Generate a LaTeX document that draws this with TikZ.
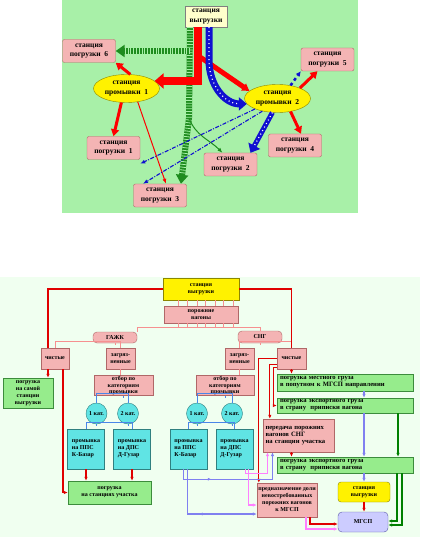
\documentclass[tikz,border=0pt]{standalone}
\usepackage{fontspec}
\setmainfont{Liberation Serif}
\usetikzlibrary{arrows.meta,positioning,shapes.geometric,calc,decorations.markings}
\definecolor{topbg}{HTML}{A8F0A8}
\definecolor{botbg}{HTML}{F0FFF0}
\definecolor{rose}{HTML}{F4B4B4}
\definecolor{roseline}{HTML}{B06868}
\definecolor{lgreen}{HTML}{96EC8C}
\definecolor{dgreenline}{HTML}{3C8C3C}
\definecolor{aqua}{HTML}{60E4E4}
\definecolor{aqualine}{HTML}{308080}
\definecolor{lav}{HTML}{CCCCFF}
\definecolor{lavline}{HTML}{8080F0}
\definecolor{magline}{HTML}{FF80FF}
\definecolor{redline}{HTML}{E00000}
\definecolor{catline}{HTML}{4A86E8}
\definecolor{paleyel}{HTML}{FFFFCC}
\definecolor{hatch}{HTML}{1E8C1E}
\definecolor{bandblue}{HTML}{1010D0}
\tikzset{
  every node/.style={font=\bfseries\fontsize{6}{7}\selectfont, align=center, inner sep=1pt},
  big/.style={font=\bfseries\fontsize{7.5}{9.5}\selectfont},
  wide/.style={font=\bfseries\fontsize{6.6}{7}\selectfont},
  tight/.style={font=\bfseries\fontsize{6}{6.2}\selectfont},
  stbox/.style={big, draw=gray, fill=paleyel, minimum width=42pt, minimum height=21pt},
  tpbox/.style={big, draw=roseline, fill=rose, rounded corners=2pt, minimum width=53pt, minimum height=23pt},
  wash/.style={big, ellipse, draw=olive, fill=yellow, minimum width=66pt, minimum height=28pt, inner sep=0pt},
  pbox/.style={draw=roseline, fill=rose},
  gbox/.style={draw=dgreenline, fill=lgreen},
  cbox/.style={draw=aqualine, fill=aqua, align=left, minimum width=37pt, minimum height=40pt},
  ybox/.style={draw=olive, fill=yellow},
  catc/.style={ellipse, draw=aqualine, fill=aqua, minimum width=21pt, minimum height=21pt, inner sep=0pt},
  tip/.style={-{Latex[length=4pt,width=3.5pt]}},
  redln/.style={draw=redline, line width=1.1pt},
  redarr/.style={redln, tip},
  lavarr/.style={draw=lavline, line width=1.4pt, tip},
  magarr/.style={draw=magline, line width=1.4pt, tip},
  grnarr/.style={draw=green!50!black, line width=1.5pt, tip},
  pinkln/.style={draw=rose!80!red, line width=0.8pt},
  catln/.style={draw=catline, line width=0.8pt},
  mida/.style={postaction={decorate, decoration={markings, mark=at position #1 with {\arrow{Latex[length=3.5pt,width=3pt]}}}}},
  redband/.style={draw=red, line width=8pt, -{Triangle[length=9pt,width=15pt]}},
  redmid/.style={draw=red, line width=3pt, -{Triangle[length=7pt,width=8pt]}},
  redthin/.style={draw=red, line width=1pt, -{Latex[length=5pt,width=4pt]}},
  blueband/.style={draw=bandblue, line width=#1, -{Triangle[length=8pt,width=13pt]},
    postaction={draw=white, line width=1.2pt, dash pattern=on 1pt off 3pt, shorten >=8pt, -}},
  greenband/.style={draw=hatch, line width=6pt, -{Triangle[length=9pt,width=12pt]},
    postaction={draw=topbg, line width=6pt, dash pattern=on 0.8pt off 2pt, shorten >=9pt, -}},
  dashdot/.style={draw=bandblue, line width=1.1pt, dash pattern=on 4pt off 1.5pt on 1pt off 1.5pt, -{Latex[length=5pt,width=4pt]}},
}
\begin{document}
\begin{tikzpicture}[x=1pt,y=-1pt]
\useasboundingbox (0,0) rectangle (420,537);
\fill[topbg] (62,0) rectangle (358,213);
\fill[botbg] (0,277) rectangle (420,537);

% upper scheme
\node[stbox] (vygT) at (206,16.5) {станция\\выгрузки};
\node[tpbox] (pog6) at (89,51) {станция\\погрузки~~6};
\node[tpbox] (pog5) at (327.5,59.5) {станция\\погрузки~~5};
\node[wash] (prom1) at (126.5,88.5) {станция\\промывки~~1};
\node[wash] (prom2) at (277.5,98.5) {станция\\промывки~~2};
\node[tpbox] (pog1) at (113.5,148) {станция\\погрузки~~1};
\node[tpbox] (pog2) at (230.5,164.5) {станция\\погрузки~~2};
\node[tpbox] (pog4) at (295,145.5) {станция\\погрузки~~4};
\node[tpbox] (pog3) at (160,195.5) {станция\\погрузки~~3};

\coordinate (gfork) at (189,118);
\coordinate (rfork) at (200,57);
\draw[greenband] ([xshift=-16pt]vygT.south) -- (gfork) -- ([xshift=21pt]pog3.north);
\draw[greenband] ([xshift=-16pt]vygT.south |- pog6.east) -- (pog6.east);
\draw[draw=hatch, line width=1pt, -{Latex[length=5pt,width=4pt]}] (gfork) to[out=-70,in=135] ([xshift=-8pt]pog2.north);
\draw[redband] ([xshift=-8pt]vygT.south) |- (prom1.15);
\draw[redmid, line width=5pt] (rfork) -- (prom2.165);
\draw[blueband=7pt] ([xshift=3pt]vygT.south) -- ++(0,33) .. controls +(0,25) and +(-22,0) .. (prom2.190);

\draw[redmid] (prom1.75) -- (pog6.south east);
\draw[redmid] (prom1.250) -- (pog1.north);
\draw[redthin] (prom1.310) -- ([xshift=6pt]pog3.north);
\draw[redmid] (prom2.25) -- ([xshift=-10pt]pog5.south);
\draw[draw=bandblue, line width=2.5pt, dashed, -{Latex[length=5pt,width=5pt]}] (prom2.45) -- (pog5.south west);
\draw[redmid] (prom2.315) -- ([xshift=6pt]pog4.north);
\draw[dashdot] (prom2.205) -- ([yshift=-4pt]pog1.south east);
\draw[dashdot] (prom2.220) -- ([xshift=-17pt]pog3.north);
\draw[blueband=5pt] (prom2.250) -- ([xshift=20pt]pog2.north);

% lower scheme
\node[ybox, minimum width=76pt, minimum height=22pt] (vygB) at (201,289) {станция\\выгрузки};
\node[pbox, minimum width=74pt, minimum height=17pt] (porozh) at (201,314.5) {порожние\\вагоны};
\node[pbox, rounded corners=4pt, minimum width=44pt, minimum height=11pt] (gazhk) at (115,337.5) {ГАЖК};
\node[pbox, rounded corners=4pt, minimum width=44pt, minimum height=12pt] (sng) at (260,337) {СНГ};
\node[pbox, minimum width=28pt, minimum height=21pt] (chistG) at (55,358.5) {чистые};
\node[pbox, minimum width=29pt, minimum height=21pt] (zagrG) at (120.5,358.5) {загряз-\\ненные};
\node[pbox, minimum width=29pt, minimum height=21pt] (zagrS) at (239.5,358.5) {загряз-\\ненные};
\node[pbox, minimum width=29pt, minimum height=21pt] (chistS) at (291.5,358.5) {чистые};

\node[gbox, minimum width=50pt, minimum height=30pt] (samaya) at (28,393) {погрузка\\на самой\\станции\\выгрузки};
\node[pbox, tight, minimum width=59pt, minimum height=19pt] (otborG) at (123.5,385.5) {отбор по\\категориям\\промывки};
\node[pbox, tight, minimum width=58pt, minimum height=19pt] (otborS) at (225,385.5) {отбор по\\категориям\\промывки};
\node[catc] (cat1G) at (96.5,413.5) {1 кат.};
\node[catc] (cat2G) at (128,413.5) {2 кат.};
\node[catc] (cat1S) at (197,413.5) {1 кат.};
\node[catc] (cat2S) at (232,413.5) {2 кат.};
\node[cbox] (kbG) at (86,449) {промывка\\на ППС\\К-Базар};
\node[cbox] (dgG) at (132,449) {промывка\\на ДПС\\Д-Гузар};
\node[cbox] (kbS) at (188.5,449) {промывка\\на ППС\\К-Базар};
\node[cbox] (dgS) at (234.5,449) {промывка\\на ДПС\\Д-Гузар};
\node[gbox, minimum width=83pt, minimum height=23pt] (uchast) at (109.5,492.5) {погрузка\\на станциях участка};

\node[gbox, wide, align=left, minimum width=136pt, minimum height=17pt, text width=130pt] (mestn) at (345,382.5) {погрузка местного груза\\в попутном к МГСП направлении};
\node[gbox, wide, align=left, minimum width=136pt, minimum height=15pt, text width=130pt] (eksp1) at (345,405.5) {погрузка экспортного груза\\в страну~ приписки вагона};
\node[pbox, wide, align=left, minimum width=71pt, minimum height=33pt, text width=66pt] (pered) at (298.5,435.5) {передача порожних\\вагонов СНГ\\на станции участка};
\node[gbox, wide, align=left, minimum width=136pt, minimum height=16pt, text width=130pt] (eksp2) at (345,465) {погрузка экспортного груза\\в страну~ приписки вагона};
\node[pbox, minimum width=60pt, minimum height=34pt] (predn) at (287,500) {предназначение доли\\невостребованных\\порожних вагонов\\к МГСП};
\node[ybox, rounded corners=3pt, minimum width=52pt, minimum height=20pt] (vygB2) at (364,492) {станция\\выгрузки};
\node[draw=lavline!70!black, fill=lav, rounded corners=4pt, minimum width=50pt, minimum height=20pt] (mgsp) at (363,522) {МГСП};

\foreach \dx in {-23,-14,-4,4,14,22,32}{
  \draw[pinkln] ([xshift=\dx pt]vygB.south) -- ([xshift=\dx pt]porozh.north);
  \draw[pinkln] ([xshift=\dx pt]porozh.south) -- ++(0,5);
}
\draw[pinkln] (gazhk.north east) -- ++(0,-4) -| (sng.north);
\draw[pinkln] (chistG.north) |- ($(gazhk.south)+(0,-2)$) -| (zagrG.north);
\draw[pinkln] (gazhk.south) -- ++(0,2);
\draw[pinkln] (zagrS.north) |- ($(sng.south)+(0,-2)$) -| (chistS.north);
\draw[pinkln] (sng.south) -- ++(0,2);
\draw[pinkln] (zagrG.south) -- (zagrG.south |- otborG.north);
\draw[pinkln] (zagrS.south) -- (zagrS.south |- otborS.north);

\draw[redln] (vygB.west) -| ([xshift=-7pt]chistG.north);
\draw[redln] (vygB.east) -| (chistS.north);
\draw[redarr] ([xshift=-7pt]chistG.south) -- ([xshift=-7pt]chistG.south |- samaya.north);
\draw[redarr] ([xshift=8pt]chistG.south) |- (uchast.west);

\foreach \o/\a/\b/\k/\d in {otborG/cat1G/cat2G/kbG/dgG, otborS/cat1S/cat2S/kbS/dgS}{
  \draw[catln] (\a.north) |- ($(\o.south)+(0,-2)$) -| (\b.north);
  \draw[catln] (\o.south) -- ++(0,2);
  \draw[catln] (\k.north) |- ($(\a.south)+(0,-2)$) -| (\d.north);
  \draw[catln] (\a.south) -- ++(0,2);
  \draw[catln] (\b.south) -- ++(0,2);
}
\draw[redarr] (kbG.south) -- (kbG.south |- uchast.north);
\draw[redarr] (dgG.south) -- (dgG.south |- uchast.north);

\draw[redarr] (chistS.south) -- (chistS.south |- mestn.north);
\draw[redarr] (chistS.west) -| ([xshift=2pt]predn.north west);
\draw[redarr] ([yshift=-6pt]chistS.west) -| ([xshift=7pt]pered.north west);
\draw[redarr] ([yshift=-9pt]chistS.west) -- ++(-3,0) |- (eksp1.west);
\draw[redarr] ([xshift=-7pt]pered.south) -- ([xshift=-7pt]pered.south |- eksp2.north);

\draw[lavarr] ([xshift=19pt]mestn.south) -- ([xshift=19pt]eksp1.north);
\draw[lavarr] ([xshift=19pt]eksp1.south) -- ([xshift=19pt]eksp2.north);
\draw[lavarr] ([xshift=19pt]eksp2.south) -- (vygB2.north);
\draw[redarr] (vygB2.south) -- (vygB2.south |- mgsp.north);
\draw[grnarr] ([xshift=53pt]eksp1.south) -- ([xshift=53pt]eksp2.north);
\draw[grnarr] ([xshift=52pt]eksp2.south) |- ([yshift=1pt]mgsp.east);
\draw[grnarr] ([xshift=57pt]eksp2.south) |- ([yshift=-3pt]mgsp.east);

\draw[lavarr, mida=0.3] ([xshift=-5pt]kbS.south) -- ++(0,10) -| ([xshift=-26pt]pered.south);
\draw[lavarr, mida=0.55] ([xshift=-1pt]kbS.south) |- ([yshift=-14pt]predn.west);
\draw[magarr] ([xshift=11pt]dgS.south) -- ++(0,4) -| ([xshift=-31pt]pered.south);
\draw[magarr] ([xshift=14pt]dgS.south) |- ([yshift=-5pt]predn.west);
\draw[redarr] ([xshift=23pt]predn.south) |- ([yshift=-2pt]mgsp.west);
\draw[magarr] ([xshift=19pt]predn.south) |- ([yshift=-7pt]mgsp.west);

\end{tikzpicture}
\end{document}
